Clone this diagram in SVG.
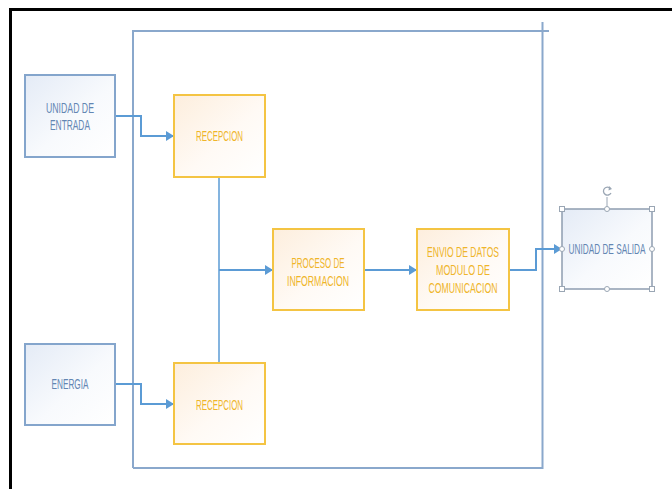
<svg xmlns="http://www.w3.org/2000/svg" width="672" height="489" viewBox="0 0 672 489">
  <defs>
    <linearGradient id="gBlue" x1="0" y1="0" x2="1" y2="1">
      <stop offset="0" stop-color="#e4ebf6"/>
      <stop offset="0.55" stop-color="#f8fafd"/>
      <stop offset="1" stop-color="#ffffff"/>
    </linearGradient>
    <linearGradient id="gGold" x1="0" y1="0" x2="1" y2="1">
      <stop offset="0" stop-color="#fdeedd"/>
      <stop offset="0.55" stop-color="#fffaf5"/>
      <stop offset="1" stop-color="#ffffff"/>
    </linearGradient>
    <marker id="arrow" markerUnits="userSpaceOnUse" markerWidth="8" markerHeight="10" refX="8" refY="5" orient="auto">
      <path d="M0,0 L8,5 L0,10 z" fill="#5b9bd5"/>
    </marker>
    <filter id="soft" x="-5%" y="-5%" width="110%" height="115%">
      <feGaussianBlur stdDeviation="1.2"/>
    </filter>
  </defs>
  <style>
    .blue { fill: url(#gBlue); stroke: #84a5cc; stroke-width: 2; }
    .gold { fill: url(#gGold); stroke: #f4c443; stroke-width: 2; }
    .tb { fill: #6386b3; font-family: "Liberation Sans Narrow", "Liberation Sans", Arial, sans-serif; font-size: 14px; text-anchor: middle; }
    .tg { fill: #efb52a; font-family: "Liberation Sans Narrow", "Liberation Sans", Arial, sans-serif; font-size: 14px; text-anchor: middle; }
    .con { fill: none; stroke: #5b9bd5; stroke-width: 2; }
    .thin { fill: none; stroke: #5b9bd5; stroke-width: 1.5; }
    .handle { fill: #ffffff; stroke: #9aa6b4; stroke-width: 1; }
  </style>

  <rect width="672" height="489" fill="#ffffff"/>

  <!-- outer frame -->
  <path d="M10.5,489 V9.5 H672" fill="none" stroke="#000000" stroke-width="3"/>

  <!-- enclosing boundary -->
  <g id="boundary">
    <path d="M134,470 H544" stroke="#c9dcf0" stroke-width="3" filter="url(#soft)" fill="none"/>
    <path d="M133,468 V31 H549" fill="none" stroke="#8aa8cc" stroke-width="2"/>
    <path d="M542.5,22 V468 H133" fill="none" stroke="#8aa8cc" stroke-width="2"/>
  </g>

  <!-- connectors -->
  <g id="connectors">
    <path class="con" d="M115,116 H141 V136 H174" marker-end="url(#arrow)"/>
    <path class="con" d="M115,384 H141 V404 H174" marker-end="url(#arrow)"/>
    <path class="thin" d="M219,177 V363"/>
    <path class="con" d="M219,270 H273" marker-end="url(#arrow)"/>
    <path class="con" d="M364,270 H417" marker-end="url(#arrow)"/>
    <path class="con" d="M509,270 H536 V249 H562" marker-end="url(#arrow)"/>
  </g>

  <g id="unidad-entrada">
    <rect class="blue" x="25" y="75" width="90" height="82"/>
    <text class="tb" x="70" y="113" textLength="48" lengthAdjust="spacingAndGlyphs">UNIDAD DE</text>
    <text class="tb" x="70" y="130" textLength="40" lengthAdjust="spacingAndGlyphs">ENTRADA</text>
  </g>

  <g id="energia">
    <rect class="blue" x="25" y="344" width="90" height="81"/>
    <text class="tb" x="70" y="389" textLength="37" lengthAdjust="spacingAndGlyphs">ENERGIA</text>
  </g>

  <g id="recepcion-1">
    <rect class="gold" x="174" y="95" width="91" height="82"/>
    <text class="tg" x="219.5" y="141" textLength="47" lengthAdjust="spacingAndGlyphs">RECEPCION</text>
  </g>

  <g id="recepcion-2">
    <rect class="gold" x="174" y="363" width="91" height="81"/>
    <text class="tg" x="219.5" y="409.5" textLength="47" lengthAdjust="spacingAndGlyphs">RECEPCION</text>
  </g>

  <g id="proceso">
    <rect class="gold" x="273" y="229" width="91" height="81"/>
    <text class="tg" x="318" y="268" textLength="53" lengthAdjust="spacingAndGlyphs">PROCESO DE</text>
    <text class="tg" x="318" y="285.5" textLength="62" lengthAdjust="spacingAndGlyphs">INFORMACION</text>
  </g>

  <g id="envio">
    <rect class="gold" x="417" y="229" width="92" height="81"/>
    <text class="tg" x="463" y="257" textLength="72" lengthAdjust="spacingAndGlyphs">ENVIO DE DATOS</text>
    <text class="tg" x="463" y="275" textLength="54" lengthAdjust="spacingAndGlyphs">MODULO DE</text>
    <text class="tg" x="463" y="293" textLength="69" lengthAdjust="spacingAndGlyphs">COMUNICACION</text>
  </g>

  <g id="unidad-salida">
    <rect x="562" y="209" width="90" height="80" fill="url(#gBlue)" stroke="#8e9db0" stroke-width="1.5"/>
    <text class="tb" x="607" y="254" textLength="77" lengthAdjust="spacingAndGlyphs">UNIDAD DE SALIDA</text>
    <!-- selection handles -->
    <line x1="607" y1="197" x2="607" y2="209" stroke="#9aa6b4" stroke-width="1"/>
    <path d="M610.5,188.5 A4,4 0 1 0 611,193" fill="none" stroke="#9aa6b4" stroke-width="1.3"/>
    <path d="M609,186 L612,189 L608.5,190.5 z" fill="#9aa6b4"/>
    <rect class="handle" x="559.5" y="206.5" width="5" height="5"/>
    <rect class="handle" x="649.5" y="206.5" width="5" height="5"/>
    <rect class="handle" x="559.5" y="286.5" width="5" height="5"/>
    <rect class="handle" x="649.5" y="286.5" width="5" height="5"/>
    <circle class="handle" cx="607" cy="209" r="2.5"/>
    <circle class="handle" cx="607" cy="289" r="2.5"/>
    <circle class="handle" cx="562" cy="249" r="2.5"/>
    <circle class="handle" cx="652" cy="249" r="2.5"/>
  </g>
</svg>
